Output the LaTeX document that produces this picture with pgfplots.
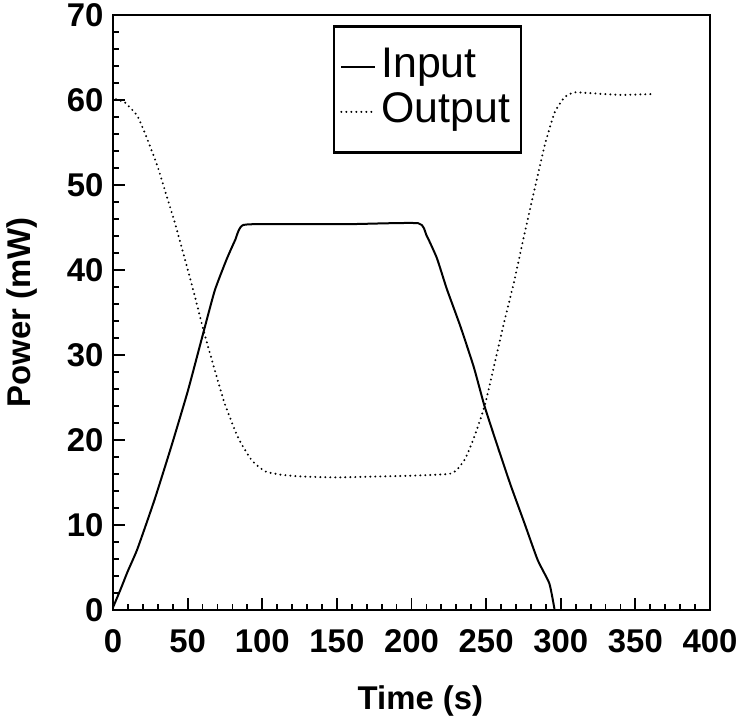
\documentclass[border=0pt]{standalone}
\usepackage{fontspec}
\setmainfont{Liberation Sans}
\usepackage{pgfplots}
\pgfplotsset{compat=1.18}
\begin{document}
\begin{tikzpicture}
\begin{axis}[
  width=597bp, height=595bp, scale only axis,
  xmin=0, xmax=400, ymin=0, ymax=70,
  xtick={0,50,...,400}, ytick={0,10,...,70},
  minor x tick num=4, minor y tick num=4,
  tick pos=left, tick align=inside,
  major tick length=12bp, minor tick length=6bp,
  axis line style={line width=2.5bp},
  every tick/.style={line width=1.8bp, black},
  /pgf/number format/assume math mode=true,
  ticklabel style={font=\fontsize{33}{38}\selectfont\bfseries},
  xticklabel style={yshift=-16bp},
  yticklabel style={xshift=-6bp},
  xlabel={Time (s)}, ylabel={Power (mW)},
  label style={font=\fontsize{33}{38}\selectfont\bfseries},
  xlabel style={at={(axis description cs:0.515,-0.153)}, anchor=center},
  ylabel style={at={(axis description cs:-0.153,0.5)}, anchor=center},
  legend style={at={(0.3685,0.983)}, anchor=north west, draw=black, line width=2.5bp,
    font=\fontsize{43}{48}\selectfont, inner xsep=6bp, inner ysep=18bp,
    nodes={inner ysep=2bp, inner xsep=5bp, text height=31bp, text depth=10bp}},
  legend cell align=left,
  legend image code/.code={\draw[#1] (0bp,0bp) -- (34bp,0bp);},
]
\addplot[black, line width=2bp, smooth, tension=0.3] coordinates {
(0,0.3) (5,2.4) (10,4.6) (16.4,7.2) (27.7,12.9) (39,19.2) (50.2,25.8) (60.8,32.8)
(68.2,37.6) (76,41.2) (81.8,43.5) (87.4,45.3) (120,45.4) (160,45.4) (204.5,45.5)
(210,44.1) (217,41.4) (223.6,37.8) (232.7,33.4) (241.7,28.6) (248.9,24) (257.4,19.4)
(266.4,14.7) (275.5,10.3) (284.5,5.9) (292.4,3.1) (295.8,0.1)
};
\addlegendentry{Input}
\addplot[black, line width=2.2bp, line cap=round, dash pattern=on 0bp off 5bp, smooth, tension=0.3] coordinates {
(2,60.1) (8,59.7) (16.4,58.1) (23.2,55.3) (30,52.1) (35.6,48.9) (41.2,45.7) (48,41.4)
(54.7,37) (60.8,32.8) (68.2,28.2) (75,24.2) (84,20.2) (93,17.6) (102,16.3) (113,15.9)
(127,15.7) (150,15.6) (176,15.7) (200,15.8) (225,16.0) (230.4,16.5) (236,17.8)
(241.7,20.2) (249,24) (255.2,28.6) (262,33.8) (268.7,38.6) (275.5,44.1) (282.2,49.3)
(289,54.5) (295.8,58.5) (302.5,60.3) (309,60.9) (320,60.8) (340,60.6) (362,60.7)
};
\addlegendentry{Output}
\end{axis}
\pgfresetboundingbox
\path ([shift={(-113bp,-109bp)}]current axis.south west) rectangle ([shift={(35bp,15bp)}]current axis.north east);
\end{tikzpicture}
\end{document}
